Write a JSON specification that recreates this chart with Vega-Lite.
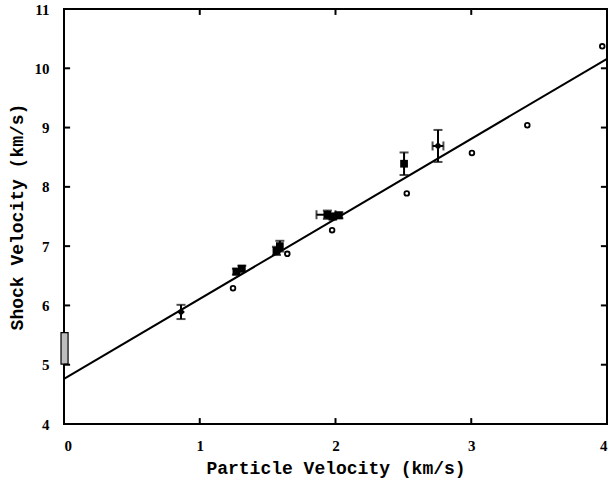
{
  "$schema": "https://vega.github.io/schema/vega-lite/v6.json",
  "width": 543,
  "height": 415,
  "autosize": "none",
  "padding": {"left": 64, "top": 9, "right": 3, "bottom": 64},
  "background": "white",
  "config": {
    "view": {"stroke": "black", "strokeWidth": 2},
    "axis": {
      "grid": false,
      "domain": false,
      "ticks": false,
      "labelFont": "Liberation Serif",
      "labelFontWeight": "bold",
      "labelFontSize": 15,
      "labelColor": "black",
      "titleFont": "Liberation Mono",
      "titleFontWeight": "bold",
      "titleFontSize": 18,
      "titleColor": "black"
    }
  },
  "datasets": {
    "fit": [
      {"up": 0, "us": 4.76},
      {"up": 4, "us": 10.16}
    ],
    "open": [
      {"up": 1.245, "us": 6.29},
      {"up": 1.645, "us": 6.87},
      {"up": 1.975, "us": 7.27},
      {"up": 2.525, "us": 7.89},
      {"up": 3.005, "us": 8.57},
      {"up": 3.413, "us": 9.04},
      {"up": 3.965, "us": 10.37}
    ],
    "filled": [
      {"up": 0.862, "us": 5.89, "ylo": 5.77, "yhi": 6.01, "xlo": null, "xhi": null, "kind": "diamond"},
      {"up": 1.27, "us": 6.57, "ylo": 6.52, "yhi": 6.62, "xlo": null, "xhi": null, "kind": "square"},
      {"up": 1.31, "us": 6.62, "ylo": 6.57, "yhi": 6.67, "xlo": null, "xhi": null, "kind": "square"},
      {"up": 1.565, "us": 6.92, "ylo": 6.85, "yhi": 6.99, "xlo": null, "xhi": null, "kind": "square"},
      {"up": 1.59, "us": 7.0, "ylo": 6.91, "yhi": 7.09, "xlo": null, "xhi": null, "kind": "square"},
      {"up": 1.94, "us": 7.53, "ylo": 7.46, "yhi": 7.6, "xlo": 1.86, "xhi": 2.0, "kind": "square"},
      {"up": 1.98, "us": 7.5, "ylo": 7.45, "yhi": 7.55, "xlo": null, "xhi": null, "kind": "square"},
      {"up": 2.025, "us": 7.52, "ylo": 7.47, "yhi": 7.57, "xlo": null, "xhi": null, "kind": "square"},
      {"up": 2.505, "us": 8.39, "ylo": 8.2, "yhi": 8.58, "xlo": null, "xhi": null, "kind": "square"},
      {"up": 2.755, "us": 8.69, "ylo": 8.42, "yhi": 8.96, "xlo": 2.715, "xhi": 2.795, "kind": "diamond"}
    ],
    "band": [
      {"x1": -0.022, "x2": 0.03, "y1": 5.01, "y2": 5.54}
    ],
    "xticks": [{"v": 1}, {"v": 2}, {"v": 3}],
    "yticks": [{"v": 5}, {"v": 6}, {"v": 7}, {"v": 8}, {"v": 9}, {"v": 10}]
  },
  "layer": [
    {
      "data": {"name": "band"},
      "mark": {"type": "rect", "fill": "#bdbdbd", "stroke": "black", "strokeWidth": 1.2, "clip": false},
      "encoding": {
        "x": {"field": "x1", "type": "quantitative", "scale": {"domain": [0, 4], "nice": false},
              "axis": {"orient": "bottom", "values": [0, 1, 2, 3, 4], "format": "d", "labelPadding": 14, "title": "Particle Velocity (km/s)", "titlePadding": 6}},
        "x2": {"field": "x2"},
        "y": {"field": "y1", "type": "quantitative", "scale": {"domain": [4, 11], "nice": false},
              "axis": {"orient": "left", "values": [4, 5, 6, 7, 8, 9, 10, 11], "format": "d", "labelPadding": 15, "title": "Shock Velocity (km/s)", "titlePadding": 8}},
        "y2": {"field": "y2"}
      }
    },
    {
      "data": {"name": "xticks"},
      "mark": {"type": "rule", "color": "black", "strokeWidth": 2},
      "encoding": {
        "x": {"field": "v", "type": "quantitative"},
        "y": {"datum": 4, "type": "quantitative"},
        "y2": {"datum": 4.1}
      }
    },
    {
      "data": {"name": "xticks"},
      "mark": {"type": "rule", "color": "black", "strokeWidth": 2},
      "encoding": {
        "x": {"field": "v", "type": "quantitative"},
        "y": {"datum": 10.9, "type": "quantitative"},
        "y2": {"datum": 11}
      }
    },
    {
      "data": {"name": "yticks"},
      "mark": {"type": "rule", "color": "black", "strokeWidth": 2},
      "encoding": {
        "x": {"datum": 0, "type": "quantitative"},
        "x2": {"datum": 0.045},
        "y": {"field": "v", "type": "quantitative"}
      }
    },
    {
      "data": {"name": "yticks"},
      "mark": {"type": "rule", "color": "black", "strokeWidth": 2},
      "encoding": {
        "x": {"datum": 3.955, "type": "quantitative"},
        "x2": {"datum": 4},
        "y": {"field": "v", "type": "quantitative"}
      }
    },
    {
      "data": {"name": "fit"},
      "mark": {"type": "line", "color": "black", "strokeWidth": 2},
      "encoding": {
        "x": {"field": "up", "type": "quantitative"},
        "y": {"field": "us", "type": "quantitative"}
      }
    },
    {
      "data": {"name": "open"},
      "mark": {"type": "point", "shape": "circle", "filled": false, "color": "black", "strokeWidth": 1.8, "size": 22, "opacity": 1},
      "encoding": {
        "x": {"field": "up", "type": "quantitative"},
        "y": {"field": "us", "type": "quantitative"}
      }
    },
    {
      "data": {"name": "filled"},
      "mark": {"type": "rule", "color": "black", "strokeWidth": 2},
      "encoding": {
        "x": {"field": "up", "type": "quantitative"},
        "y": {"field": "ylo", "type": "quantitative"},
        "y2": {"field": "yhi"}
      }
    },
    {
      "data": {"name": "filled"},
      "mark": {"type": "tick", "orient": "horizontal", "color": "black", "thickness": 2, "size": 9},
      "encoding": {
        "x": {"field": "up", "type": "quantitative"},
        "y": {"field": "ylo", "type": "quantitative"}
      }
    },
    {
      "data": {"name": "filled"},
      "mark": {"type": "tick", "orient": "horizontal", "color": "black", "thickness": 2, "size": 9},
      "encoding": {
        "x": {"field": "up", "type": "quantitative"},
        "y": {"field": "yhi", "type": "quantitative"}
      }
    },
    {
      "data": {"name": "filled"},
      "transform": [{"filter": "datum.xlo != null"}],
      "mark": {"type": "rule", "color": "black", "strokeWidth": 2},
      "encoding": {
        "x": {"field": "xlo", "type": "quantitative"},
        "x2": {"field": "xhi"},
        "y": {"field": "us", "type": "quantitative"}
      }
    },
    {
      "data": {"name": "filled"},
      "transform": [{"filter": "datum.xlo != null"}],
      "mark": {"type": "tick", "orient": "vertical", "color": "black", "thickness": 2, "size": 9},
      "encoding": {
        "x": {"field": "xlo", "type": "quantitative"},
        "y": {"field": "us", "type": "quantitative"}
      }
    },
    {
      "data": {"name": "filled"},
      "transform": [{"filter": "datum.xlo != null"}],
      "mark": {"type": "tick", "orient": "vertical", "color": "black", "thickness": 2, "size": 9},
      "encoding": {
        "x": {"field": "xhi", "type": "quantitative"},
        "y": {"field": "us", "type": "quantitative"}
      }
    },
    {
      "data": {"name": "filled"},
      "mark": {"type": "point", "filled": true, "color": "black", "size": 60, "opacity": 1},
      "encoding": {
        "x": {"field": "up", "type": "quantitative"},
        "y": {"field": "us", "type": "quantitative"},
        "shape": {"field": "kind", "type": "nominal", "scale": {"domain": ["square", "diamond"], "range": ["square", "diamond"]}, "legend": null}
      }
    }
  ]
}
